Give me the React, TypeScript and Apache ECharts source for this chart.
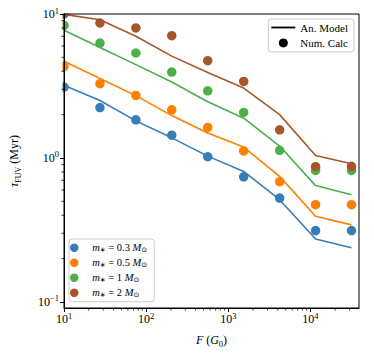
import React, { useEffect, useRef } from "react";
import * as echarts from "echarts";

// Incident FUV flux F (G0)
const fluxValues = [10, 27.4, 75, 205, 562, 1540, 4220, 11550, 31600];

// Numerical calculation (dots), tau_FUV in Myr
const numM03 = [3.11, 2.24, 1.84, 1.44, 1.02, 0.74, 0.527, 0.313, 0.313];
const numM05 = [4.33, 3.28, 2.72, 2.16, 1.63, 1.12, 0.684, 0.474, 0.474];
const numM1 = [8.33, 6.28, 5.36, 3.95, 2.93, 2.07, 1.13, 0.82, 0.82];
const numM2 = [10.0, 8.66, 8.0, 7.07, 4.74, 3.4, 1.57, 0.87, 0.875];

// Analytical model (lines)
const anM03 = [3.2, 2.51, 1.81, 1.38, 1.03, 0.807, 0.513, 0.274, 0.238];
const anM05 = [4.69, 3.56, 2.71, 1.97, 1.49, 1.19, 0.745, 0.394, 0.343];
const anM1 = [7.7, 5.85, 4.45, 3.37, 2.46, 1.89, 1.21, 0.643, 0.556];
const anM2 = [9.94, 9.13, 7.0, 5.1, 3.93, 3.06, 2.0, 1.04, 0.912];

const massLabels = ["0.3", "0.5", "1", "2"];
const colors = ["#377eb8", "#ff7f00", "#4daf4a", "#a65628"];

const xMajorTicks = [10, 100, 1000, 10000];
const xMinorTicks = [
  20, 30, 40, 50, 60, 70, 80, 90,
  200, 300, 400, 500, 600, 700, 800, 900,
  2000, 3000, 4000, 5000, 6000, 7000, 8000, 9000,
  20000, 30000,
];
const yMajorTicks = [0.1, 1, 10];
const yMinorTicks = [0.2, 0.3, 0.4, 0.5, 0.6, 0.7, 0.8, 0.9, 2, 3, 4, 5, 6, 7, 8, 9];

const X_MIN = 10;
const X_MAX = 39000;
const Y_MIN = 0.0908;
const Y_MAX = 10;

const FONT = "'Liberation Serif', 'DejaVu Serif', serif";

const supRich = {
  b: { fontFamily: FONT, fontSize: 12, color: "#000", lineHeight: 16 },
  sup: { fontFamily: FONT, fontSize: 8.5, color: "#000", verticalAlign: "top" as const, lineHeight: 16 },
};

function powLabel(v: number) {
  const e = Math.round(Math.log10(v));
  const es = e < 0 ? "\u2212" + Math.abs(e) : String(e);
  return "{b|10}{sup|" + es + "}";
}

export default function App() {
  const ref = useRef<HTMLDivElement>(null);

  useEffect(() => {
    if (!ref.current) return;
    const chart = echarts.init(ref.current, null, { renderer: "svg" });

    const nums = [numM03, numM05, numM1, numM2];
    const ans = [anM03, anM05, anM1, anM2];
    const massNames = massLabels.map((m) => "m" + m);

    const lineSeries = ans.map((arr, k) => ({
      name: "line" + k,
      type: "line",
      data: fluxValues.map((x, i) => [x, arr[i]]),
      symbol: "none",
      lineStyle: { color: colors[k], width: 1.6 },
      itemStyle: { color: colors[k] },
      z: 2,
    }));
    const scatterSeries = nums.map((arr, k) => ({
      name: massNames[k],
      type: "scatter",
      data: fluxValues.map((x, i) => [x, arr[i]]),
      symbol: "circle",
      symbolSize: 9.5,
      itemStyle: { color: colors[k], opacity: 1 },
      clip: false,
      z: 2,
    }));

    const minorTickSeries = {
      name: "minorTicks",
      type: "custom",
      silent: true,
      clip: false,
      z: 11,
      data: [
        ...xMinorTicks.map((v) => [v, Y_MIN, 0]),
        ...yMinorTicks.map((v) => [X_MIN, v, 1]),
      ],
      renderItem: (params: any, api: any) => {
        const p = api.coord([api.value(0), api.value(1)]);
        const isY = api.value(2) === 1;
        const shape = isY
          ? { x1: p[0] - 2.5, y1: p[1], x2: p[0], y2: p[1] }
          : { x1: p[0], y1: p[1], x2: p[0], y2: p[1] + 2.5 };
        return { type: "line", shape, style: { stroke: "#000", lineWidth: 0.8 } };
      },
    };

    const option: any = {
      animation: false,
      grid: {
        left: 63,
        right: 15,
        top: 14,
        bottom: 49,
        show: true,
        borderColor: "#000",
        borderWidth: 1,
        backgroundColor: "transparent",
        z: 10,
      },
      xAxis: {
        type: "log",
        logBase: 10,
        min: X_MIN,
        max: X_MAX,
        z: 10,
        axisLine: { show: true, lineStyle: { color: "#000", width: 1 } },
        axisTick: { show: true, length: 4, lineStyle: { color: "#000", width: 1 }, customValues: xMajorTicks },
        axisLabel: {
          show: true,
          margin: 3,
          customValues: xMajorTicks,
          formatter: (v: number) => powLabel(v),
          rich: supRich,
        },
        splitLine: { show: false },
        minorTick: { show: false },
        name: "{i|F} ({i|G}{s|0})",
        nameLocation: "middle",
        nameGap: 24,
        nameTextStyle: {
          rich: {
            i: { fontFamily: FONT, fontSize: 12, fontStyle: "italic", color: "#000", lineHeight: 16 },
            s: { fontFamily: FONT, fontSize: 8.5, color: "#000", verticalAlign: "bottom", lineHeight: 16 },
          },
          fontFamily: FONT,
          fontSize: 12,
          color: "#000",
        },
      },
      yAxis: {
        type: "log",
        logBase: 10,
        min: Y_MIN,
        max: Y_MAX,
        z: 10,
        axisLine: { show: true, lineStyle: { color: "#000", width: 1 } },
        axisTick: { show: true, length: 4, lineStyle: { color: "#000", width: 1 }, customValues: yMajorTicks },
        axisLabel: {
          show: true,
          margin: 5,
          customValues: yMajorTicks,
          formatter: (v: number) => powLabel(v),
          rich: supRich,
        },
        splitLine: { show: false },
        minorTick: { show: false },
        name: "{t|\u03c4}{s|FUV} (Myr)",
        nameLocation: "middle",
        nameGap: 42,
        nameTextStyle: {
          rich: {
            t: { fontFamily: FONT, fontSize: 12, fontStyle: "italic", color: "#000", lineHeight: 16 },
            s: { fontFamily: FONT, fontSize: 8, color: "#000", verticalAlign: "bottom", lineHeight: 16 },
          },
          fontFamily: FONT,
          fontSize: 12,
          color: "#000",
        },
      },
      legend: [
        {
          data: [
            { name: "An. Model", icon: "path://M0,0L24,0L24,1.8L0,1.8Z", itemStyle: { color: "#000" } },
            { name: "Num. Calc", icon: "circle", itemStyle: { color: "#000" } },
          ],
          orient: "vertical",
          right: 20,
          top: 19,
          itemWidth: 24,
          itemHeight: 9,
          itemGap: 3.4,
          padding: [2.5, 6, 3, 3],
          backgroundColor: "rgba(255,255,255,0.8)",
          borderColor: "#cccccc",
          borderWidth: 1,
          borderRadius: 3,
          selectedMode: false,
          z: 20,
          textStyle: { fontFamily: FONT, fontSize: 11, color: "#000", lineHeight: 12 },
        },
        {
          data: massNames,
          orient: "vertical",
          left: 69,
          top: 239,
          itemWidth: 26,
          itemHeight: 8.5,
          itemGap: 3,
          padding: [2.7, 7, 3, 1],
          backgroundColor: "rgba(255,255,255,0.8)",
          borderColor: "#cccccc",
          borderWidth: 1,
          borderRadius: 3,
          selectedMode: false,
          z: 20,
          formatter: (name: string) => {
            const k = massNames.indexOf(name);
            return "{i|m}{s|\u2217} = " + massLabels[k] + " {i|M}{s|\u2299}";
          },
          textStyle: {
            fontFamily: FONT,
            fontSize: 10.5,
            color: "#000",
            lineHeight: 12,
            rich: {
              i: { fontFamily: FONT, fontSize: 10.5, fontStyle: "italic", color: "#000", lineHeight: 12 },
              s: { fontFamily: "'DejaVu Sans', sans-serif", fontSize: 7, color: "#000", verticalAlign: "bottom", lineHeight: 12 },
            },
          },
        },
      ],
      graphic: [
        { type: "rect", z: 3, silent: true, shape: { x: 0, y: 0, width: 62.5, height: 357 }, style: { fill: "#fff" } },
        { type: "rect", z: 3, silent: true, shape: { x: 0, y: 0, width: 374, height: 13.5 }, style: { fill: "#fff" } },
      ],
      series: [
        ...lineSeries,
        ...scatterSeries,
        minorTickSeries,
        {
          name: "An. Model",
          type: "line",
          data: [],
          symbol: "none",
          lineStyle: { color: "#000", width: 1.8 },
          itemStyle: { color: "#000" },
        },
        {
          name: "Num. Calc",
          type: "scatter",
          data: [],
          symbol: "circle",
          itemStyle: { color: "#000", opacity: 1 },
        },
      ],
    };

    chart.setOption(option);
    return () => chart.dispose();
  }, []);

  return (
    <div
      ref={ref}
      style={{ position: "absolute", left: 0, top: 0, width: 374, height: 357, background: "#fff" }}
    />
  );
}
